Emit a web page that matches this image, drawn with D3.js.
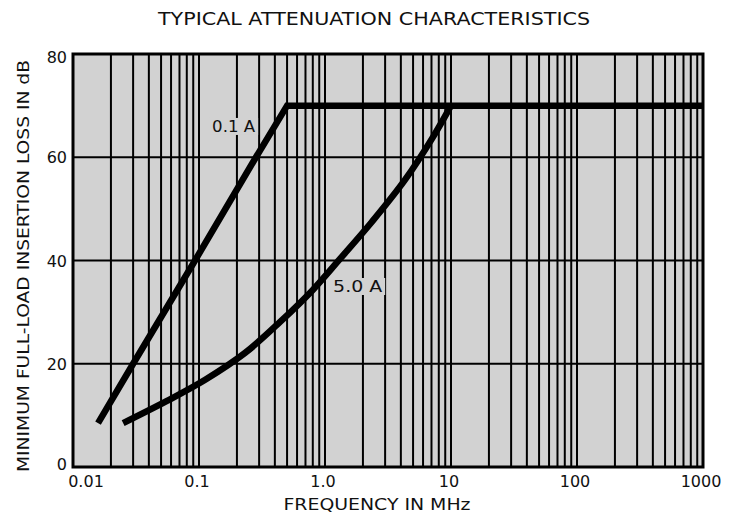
<!DOCTYPE html>
<html>
<head>
<meta charset="utf-8">
<script src="https://cdn.jsdelivr.net/npm/d3@7"></script>
<style>
  body { margin: 0; background: #fff; }
  text { font-family: "DejaVu Sans", sans-serif; fill: #111; }
</style>
</head>
<body>
<svg width="742" height="515"></svg>
<script>
// values
var xTicks = [0.01, 0.1, 1, 10, 100, 1000];
var xTickLabels = ["0.01", "0.1", "1.0", "10", "100", "1000"];
var yTicks = [0, 20, 40, 60, 80];

var freq01 = [0.0158, 0.03, 0.093, 0.283, 0.5, 1000];
var loss01 = [8.5, 20, 40, 60, 70, 70];

var freq50 = [0.025, 0.0557, 0.112, 0.232, 0.44, 0.80, 1.315, 2.36, 4.31, 7.19, 10];
var loss50 = [8.5, 12.8, 16.9, 22.1, 28.1, 34.3, 40.3, 47.5, 55.6, 63.9, 70];

var svg = d3.select("svg"),
    margin = {top: 54, right: 39, bottom: 48, left: 73},
    width = +svg.attr("width") - margin.left - margin.right,
    height = +svg.attr("height") - margin.top - margin.bottom;

var g = svg.append("g").attr("transform", "translate(" + margin.left + "," + margin.top + ")");

var x = d3.scaleLog().domain([0.01, 1000]).range([0, width]);
var y = d3.scaleLinear().domain([0, 80]).range([height, 0]);

var paper = "#d2d2d2";

// stippled paper
g.append("rect")
    .attr("width", width)
    .attr("height", height)
    .attr("fill", paper);

// vertical grid: every 1..9 of each decade
var minor = [];
for (var d = -2; d < 3; d++) {
    for (var k = 1; k < 10; k++) minor.push(k * Math.pow(10, d));
}
g.selectAll(".vgrid")
    .data(minor.filter(function(v) { return v > 0.01; }))
    .enter().append("line")
    .attr("class", "vgrid")
    .attr("x1", function(v) { return x(v); })
    .attr("x2", function(v) { return x(v); })
    .attr("y1", 0)
    .attr("y2", height)
    .attr("stroke", "#000")
    .attr("stroke-width", 2);

g.selectAll(".hgrid")
    .data(yTicks.filter(function(v) { return v > 0 && v < 80; }))
    .enter().append("line")
    .attr("class", "hgrid")
    .attr("x1", 0)
    .attr("x2", width)
    .attr("y1", function(v) { return y(v); })
    .attr("y2", function(v) { return y(v); })
    .attr("stroke", "#000")
    .attr("stroke-width", 2);

// curve labels with a paper-coloured backing
function curveLabel(txt, fx, val, len) {
    var t = g.append("text")
        .attr("x", x(fx))
        .attr("y", y(val))
        .attr("font-size", 16)
        .attr("textLength", len)
        .attr("lengthAdjust", "spacingAndGlyphs")
        .text(txt);
    var b = t.node().getBBox();
    g.insert("rect", function() { return t.node(); })
        .attr("x", b.x - 3).attr("y", b.y + 1)
        .attr("width", b.width + 6).attr("height", b.height - 2)
        .attr("fill", paper);
}
curveLabel("0.1 A", 0.127, 64.9, 43);
curveLabel("5.0 A", 1.16, 33.9, 49);

// curves
var straight = d3.line()
    .x(function(d) { return x(d[0]); })
    .y(function(d) { return y(d[1]); });

var smooth = d3.line()
    .x(function(d) { return x(d[0]); })
    .y(function(d) { return y(d[1]); })
    .curve(d3.curveCatmullRom.alpha(0.5));

g.append("path")
    .datum(d3.zip(freq01, loss01))
    .attr("d", straight)
    .attr("fill", "none")
    .attr("stroke", "#000")
    .attr("stroke-width", 6.5)
    .attr("stroke-linejoin", "miter");

g.append("path")
    .datum(d3.zip(freq50, loss50))
    .attr("d", smooth)
    .attr("fill", "none")
    .attr("stroke", "#000")
    .attr("stroke-width", 6.5);

// frame
g.append("rect")
    .attr("width", width)
    .attr("height", height)
    .attr("fill", "none")
    .attr("stroke", "#000")
    .attr("stroke-width", 3);

// axes
g.selectAll(".xlab")
    .data(xTicks)
    .enter().append("text")
    .attr("x", function(v) { return x(v); })
    .attr("dx", function(v, i) { return i === 0 ? 13 : -2; })
    .attr("y", height + 20)
    .attr("text-anchor", "middle")
    .attr("font-size", 16)
    .text(function(v, i) { return xTickLabels[i]; });

g.selectAll(".ylab")
    .data(yTicks)
    .enter().append("text")
    .attr("x", -6)
    .attr("y", function(v) { return y(v) + (v === 80 ? 9 : v === 0 ? 3 : 6); })
    .attr("text-anchor", "end")
    .attr("font-size", 16)
    .text(function(v) { return v; });

svg.append("text")
    .attr("x", 377)
    .attr("y", 510)
    .attr("text-anchor", "middle")
    .attr("font-size", 16)
    .attr("textLength", 187)
    .attr("lengthAdjust", "spacingAndGlyphs")
    .text("FREQUENCY IN MHz");

svg.append("text")
    .attr("transform", "translate(29,266) rotate(-90)")
    .attr("text-anchor", "middle")
    .attr("font-size", 16)
    .attr("textLength", 412)
    .attr("lengthAdjust", "spacingAndGlyphs")
    .text("MINIMUM FULL-LOAD INSERTION LOSS IN dB");

svg.append("text")
    .attr("x", 374)
    .attr("y", 25)
    .attr("text-anchor", "middle")
    .attr("font-size", 18)
    .attr("textLength", 432)
    .attr("lengthAdjust", "spacingAndGlyphs")
    .text("TYPICAL ATTENUATION CHARACTERISTICS");
</script>
</body>
</html>
